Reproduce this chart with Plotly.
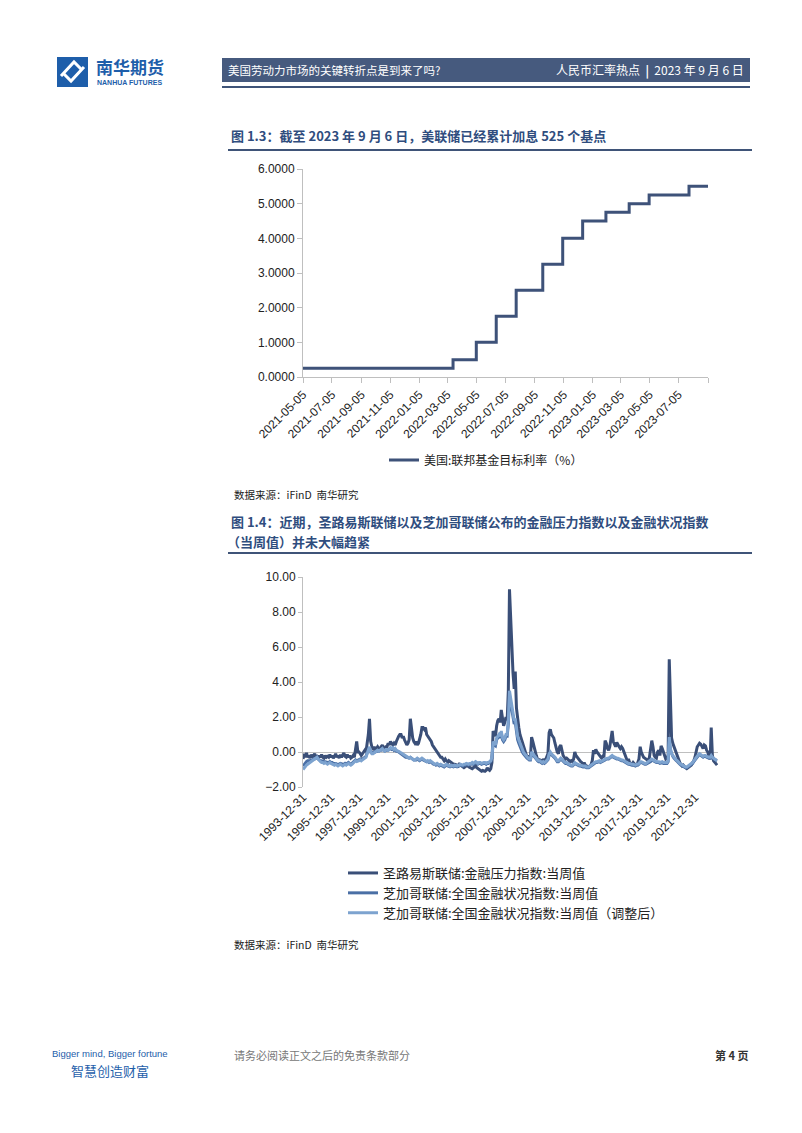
import pandas as pd
import plotly.graph_objects as go

# 页面 802x1133，body 默认留白 8px，图本身缩小后按页面像素换算
PAGE_OFF = 8
W, H = 802 - 2 * PAGE_OFF, 1133 - 2 * PAGE_OFF
NUM_FONT = "Liberation Sans, Noto Sans CJK SC, sans-serif"
CJK_FONT = "Noto Sans CJK SC, Liberation Sans, sans-serif"

# --- 图 1.3 联邦基金目标利率（上限），阶梯数据
fed_dates = ['2021-05-05', '2022-03-17', '2022-05-05', '2022-06-16', '2022-07-28',
             '2022-09-22', '2022-11-03', '2022-12-15', '2023-02-02', '2023-03-23',
             '2023-05-04', '2023-07-27', '2023-09-06']
fed_rate = [0.25, 0.5, 1.0, 1.75, 2.5, 3.25, 4.0, 4.5, 4.75, 5.0, 5.25, 5.5, 5.5]
fed_ticks = ['2021-05-05', '2021-07-05', '2021-09-05', '2021-11-05', '2022-01-05',
             '2022-03-05', '2022-05-05', '2022-07-05', '2022-09-05', '2022-11-05',
             '2023-01-05', '2023-03-05', '2023-05-05', '2023-07-05']
fed_name = "美国:联邦基金目标利率（%）"

# --- 图 1.4 金融压力 / 金融状况指数（月度读数，1994-01 起）
fsi_start = '1994-01-01'
stl_fsi = [
    -0.4, -0.1, -0.3, -0.05, -0.3, -0.2, -0.35, -0.15, -0.3, -0.2, -0.1, -0.3,   # 1994
    -0.25, -0.35, -0.2, -0.3, -0.15, -0.3, -0.35, -0.2, -0.3, -0.25, -0.3, -0.15,  # 1995
    -0.3, -0.2, -0.35, -0.25, -0.1, -0.3, -0.2, -0.35, -0.15, -0.3, -0.2, -0.05,  # 1996
    -0.25, -0.3, -0.15, -0.3, -0.2, -0.35, -0.3, -0.2, -0.3, 0.2, 0.6, 0.0,      # 1997
    0.0, -0.1, -0.2, -0.1, 0.0, 0.1, 0.0, 0.5, 1.0, 1.9, 0.6, 0.3,                # 1998
    0.2, 0.3, 0.1, 0.2, 0.3, 0.2, 0.1, 0.3, 0.4, 0.2, 0.1, 0.3,                   # 1999
    0.3, 0.5, 0.4, 0.6, 0.5, 0.4, 0.5, 0.4, 0.6, 0.8, 0.9, 1.0,                   # 2000
    1.0, 0.8, 0.9, 0.7, 0.5, 0.4, 0.5, 0.7, 1.9, 1.2, 0.8, 0.6,                   # 2001
    0.5, 0.6, 0.4, 0.5, 0.7, 1.0, 1.4, 1.4, 1.3, 1.4, 1.0, 0.9,                   # 2002
    0.8, 0.7, 0.6, 0.4, 0.3, 0.2, 0.1, 0.0, -0.1, -0.2, -0.3, -0.3,               # 2003
    -0.4, -0.5, -0.4, -0.5, -0.6, -0.5, -0.55, -0.6, -0.65, -0.7, -0.7, -0.75,    # 2004
    -0.75, -0.8, -0.7, -0.75, -0.8, -0.85, -0.9, -0.85, -0.8, -0.75, -0.85, -0.9, # 2005
    -0.9, -0.95, -0.9, -0.85, -0.8, -0.9, -0.95, -1.0, -1.05, -1.1, -1.05, -1.1,  # 2006
    -1.1, -1.05, -0.9, -1.0, -1.05, -0.95, -0.6, 1.2, 1.0, 0.9, 1.5, 1.8,         # 2007
    1.9, 1.7, 2.4, 1.8, 1.5, 1.7, 2.0, 1.8, 3.5, 9.3, 7.5, 5.6,                   # 2008
    4.5, 3.6, 4.6, 2.5, 1.8, 1.4, 1.0, 0.8, 0.5, 0.3, 0.1, -0.1,                  # 2009
    -0.3, -0.2, -0.4, -0.3, 0.85, 0.6, 0.3, 0.0, -0.2, -0.4, -0.5, -0.45,         # 2010
    -0.5, -0.55, -0.4, -0.5, -0.45, -0.2, -0.1, 1.1, 1.3, 1.0, 0.9, 0.8,          # 2011
    0.5, 0.2, 0.0, -0.1, 0.3, 0.4, 0.1, -0.2, -0.3, -0.4, -0.35, -0.4,            # 2012
    -0.5, -0.55, -0.5, -0.55, -0.4, 0.0, -0.2, -0.3, -0.4, -0.5, -0.55, -0.6,     # 2013
    -0.7, -0.6, -0.75, -0.8, -0.85, -0.85, -0.8, -0.7, -0.5, 0.1, -0.1, 0.15,     # 2014
    0.0, -0.1, -0.2, -0.3, -0.35, -0.25, -0.3, 0.65, 0.5, 0.2, 0.1, 0.3,          # 2015
    0.9, 1.2, 0.6, 0.4, 0.3, 0.55, 0.4, 0.3, 0.2, 0.3, 0.2, 0.0,                  # 2016
    -0.2, -0.4, -0.5, -0.4, -0.6, -0.65, -0.7, -0.6, -0.7, -0.75, -0.7, -0.6,     # 2017
    -0.4, 0.3, 0.0, -0.2, -0.3, -0.35, -0.4, -0.45, -0.5, -0.3, 0.1, 0.65,        # 2018
    0.3, -0.2, -0.3, -0.35, 0.0, 0.1, -0.2, 0.35, 0.2, 0.0, -0.3, -0.4,           # 2019
    -0.35, -0.2, 5.3, 2.0, 0.8, 0.5, 0.3, 0.1, 0.0, -0.2, -0.4, -0.6,             # 2020
    -0.7, -0.8, -0.75, -0.85, -0.9, -0.95, -0.9, -0.85, -0.8, -0.75, -0.6, -0.5,  # 2021
    -0.3, 0.0, 0.3, 0.4, 0.5, 0.45, 0.3, 0.2, 0.4, 0.35, 0.1, 0.0,                # 2022
    -0.3, -0.4, 1.4, -0.2, -0.5, -0.6, -0.7, -0.75,                               # 2023
]
nfci = [
    -0.8, -0.7, -0.6, -0.55, -0.5, -0.5, -0.5, -0.45, -0.45, -0.4, -0.4, -0.35,
    -0.35, -0.4, -0.45, -0.5, -0.5, -0.55, -0.55, -0.55, -0.6, -0.6, -0.6, -0.55,
    -0.6, -0.6, -0.65, -0.65, -0.65, -0.7, -0.7, -0.7, -0.65, -0.7, -0.7, -0.7,
    -0.65, -0.7, -0.65, -0.6, -0.65, -0.7, -0.65, -0.6, -0.55, -0.45, -0.5, -0.45,
    -0.45, -0.4, -0.45, -0.4, -0.35, -0.3, -0.25, -0.05, 0.1, 0.25, 0.0, -0.05,
    -0.05, 0.0, 0.0, 0.05, 0.05, 0.05, 0.1, 0.1, 0.15, 0.1, 0.05, 0.1,
    0.1, 0.1, 0.15, 0.2, 0.15, 0.2, 0.1, 0.15, 0.05, 0.05, 0.0, -0.05,
    -0.1, -0.15, -0.2, -0.25, -0.3, -0.3, -0.35, -0.35, -0.3, -0.35, -0.4, -0.45,
    -0.45, -0.45, -0.4, -0.45, -0.5, -0.45, -0.4, -0.45, -0.5, -0.55, -0.55, -0.55,
    -0.6, -0.55, -0.6, -0.65, -0.7, -0.7, -0.75, -0.7, -0.75, -0.8, -0.75, -0.8,
    -0.8, -0.85, -0.8, -0.75, -0.8, -0.85, -0.85, -0.8, -0.85, -0.85, -0.8, -0.85,
    -0.85, -0.8, -0.8, -0.75, -0.8, -0.8, -0.75, -0.75, -0.7, -0.75, -0.75, -0.7,
    -0.7, -0.65, -0.7, -0.65, -0.6, -0.65, -0.7, -0.65, -0.65, -0.7, -0.65, -0.65,
    -0.65, -0.7, -0.65, -0.65, -0.6, -0.55, -0.35, 0.5, 0.4, 0.35, 0.7, 0.8,
    0.9, 0.8, 1.1, 0.7, 0.6, 0.7, 0.9, 0.9, 1.6, 3.2, 2.8, 2.4,
    2.0, 1.6, 1.7, 1.0, 0.7, 0.5, 0.3, 0.15, 0.0, -0.1, -0.2, -0.3,
    -0.35, -0.4, -0.45, -0.45, -0.1, -0.15, -0.25, -0.35, -0.4, -0.5, -0.55, -0.55,
    -0.6, -0.65, -0.6, -0.65, -0.6, -0.5, -0.45, -0.2, -0.1, -0.15, -0.2, -0.25,
    -0.35, -0.45, -0.55, -0.55, -0.45, -0.4, -0.45, -0.55, -0.6, -0.65, -0.65, -0.7,
    -0.75, -0.75, -0.8, -0.8, -0.75, -0.65, -0.7, -0.75, -0.75, -0.8, -0.8, -0.85,
    -0.85, -0.85, -0.85, -0.9, -0.9, -0.9, -0.85, -0.8, -0.75, -0.65, -0.65, -0.6,
    -0.6, -0.55, -0.55, -0.6, -0.55, -0.5, -0.5, -0.45, -0.4, -0.4, -0.4, -0.35,
    -0.3, -0.25, -0.3, -0.35, -0.35, -0.4, -0.4, -0.45, -0.45, -0.5, -0.5, -0.55,
    -0.6, -0.65, -0.65, -0.7, -0.7, -0.75, -0.75, -0.75, -0.8, -0.8, -0.75, -0.75,
    -0.7, -0.6, -0.6, -0.65, -0.65, -0.7, -0.7, -0.65, -0.65, -0.6, -0.55, -0.45,
    -0.5, -0.55, -0.55, -0.6, -0.6, -0.6, -0.65, -0.6, -0.6, -0.65, -0.65, -0.65,
    -0.65, -0.55, 0.6, 0.1, -0.15, -0.25, -0.35, -0.45, -0.5, -0.55, -0.65, -0.7,
    -0.75, -0.8, -0.8, -0.85, -0.9, -0.9, -0.85, -0.85, -0.8, -0.75, -0.65, -0.55,
    -0.45, -0.35, -0.25, -0.2, -0.15, -0.2, -0.25, -0.3, -0.25, -0.25, -0.3, -0.35,
    -0.35, -0.35, -0.25, -0.35, -0.4, -0.45, -0.5, -0.5,
]
anfci = [
    -1.0, -0.9, -0.85, -0.75, -0.7, -0.65, -0.6, -0.55, -0.5, -0.45, -0.4, -0.35,
    -0.3, -0.4, -0.5, -0.55, -0.6, -0.6, -0.65, -0.6, -0.65, -0.7, -0.65, -0.6,
    -0.65, -0.7, -0.7, -0.75, -0.7, -0.75, -0.8, -0.75, -0.7, -0.75, -0.8, -0.75,
    -0.7, -0.75, -0.7, -0.65, -0.7, -0.75, -0.7, -0.65, -0.6, -0.5, -0.55, -0.5,
    -0.5, -0.45, -0.5, -0.45, -0.4, -0.35, -0.3, -0.1, 0.1, 0.3, 0.0, -0.1,
    -0.1, -0.05, 0.0, 0.05, 0.1, 0.05, 0.1, 0.15, 0.2, 0.1, 0.05, 0.15,
    0.15, 0.1, 0.2, 0.25, 0.2, 0.25, 0.15, 0.2, 0.1, 0.05, 0.0, 0.0,
    -0.05, -0.1, -0.15, -0.2, -0.25, -0.3, -0.3, -0.35, -0.3, -0.35, -0.4, -0.45,
    -0.45, -0.4, -0.35, -0.4, -0.45, -0.4, -0.35, -0.4, -0.45, -0.5, -0.55, -0.5,
    -0.55, -0.5, -0.55, -0.6, -0.65, -0.7, -0.7, -0.65, -0.7, -0.75, -0.7, -0.75,
    -0.75, -0.8, -0.75, -0.7, -0.75, -0.8, -0.8, -0.75, -0.8, -0.8, -0.75, -0.8,
    -0.8, -0.75, -0.75, -0.7, -0.75, -0.75, -0.7, -0.7, -0.65, -0.7, -0.7, -0.65,
    -0.65, -0.6, -0.65, -0.6, -0.55, -0.6, -0.65, -0.6, -0.6, -0.65, -0.6, -0.6,
    -0.6, -0.65, -0.6, -0.6, -0.55, -0.5, -0.3, 0.6, 0.5, 0.4, 0.8, 0.9,
    1.0, 0.9, 1.2, 0.8, 0.7, 0.8, 1.0, 1.0, 1.8, 3.5, 3.0, 2.6,
    2.2, 1.8, 1.9, 1.2, 0.9, 0.7, 0.5, 0.3, 0.1, 0.0, -0.1, -0.2,
    -0.3, -0.35, -0.4, -0.4, 0.0, -0.1, -0.2, -0.3, -0.35, -0.45, -0.5, -0.5,
    -0.55, -0.6, -0.55, -0.6, -0.55, -0.45, -0.4, -0.1, 0.0, -0.1, -0.15, -0.2,
    -0.3, -0.4, -0.5, -0.5, -0.4, -0.35, -0.4, -0.5, -0.55, -0.6, -0.6, -0.65,
    -0.7, -0.7, -0.75, -0.75, -0.7, -0.6, -0.65, -0.7, -0.7, -0.75, -0.75, -0.8,
    -0.8, -0.8, -0.8, -0.85, -0.85, -0.85, -0.8, -0.75, -0.7, -0.6, -0.6, -0.55,
    -0.55, -0.5, -0.5, -0.55, -0.5, -0.45, -0.45, -0.4, -0.35, -0.35, -0.35, -0.3,
    -0.25, -0.2, -0.25, -0.3, -0.3, -0.35, -0.35, -0.4, -0.4, -0.45, -0.45, -0.5,
    -0.55, -0.6, -0.6, -0.65, -0.65, -0.7, -0.7, -0.7, -0.75, -0.75, -0.7, -0.7,
    -0.65, -0.55, -0.55, -0.6, -0.6, -0.65, -0.65, -0.6, -0.6, -0.55, -0.5, -0.4,
    -0.45, -0.5, -0.5, -0.55, -0.55, -0.55, -0.6, -0.55, -0.55, -0.6, -0.6, -0.6,
    -0.6, -0.5, 0.85, 0.2, -0.1, -0.2, -0.3, -0.4, -0.45, -0.5, -0.6, -0.65,
    -0.7, -0.75, -0.75, -0.8, -0.85, -0.85, -0.8, -0.8, -0.75, -0.7, -0.6, -0.5,
    -0.4, -0.3, -0.2, -0.15, -0.1, -0.15, -0.2, -0.25, -0.2, -0.2, -0.25, -0.3,
    -0.3, -0.3, -0.2, -0.3, -0.35, -0.4, -0.45, -0.45,
]
fsi_names = ["圣路易斯联储:金融压力指数:当周值",
             "芝加哥联储:全国金融状况指数:当周值",
             "芝加哥联储:全国金融状况指数:当周值（调整后）"]
fsi_colors = ['#3A4F78', '#4A6FA5', '#7DA3CF']
fsi_ticks = ['1993-12-31', '1995-12-31', '1997-12-31', '1999-12-31', '2001-12-31',
             '2003-12-31', '2005-12-31', '2007-12-31', '2009-12-31', '2011-12-31',
             '2013-12-31', '2015-12-31', '2017-12-31', '2019-12-31', '2021-12-31']


def px(x):
    # 页面像素 -> paper x
    return (x - PAGE_OFF) / W


def py(y):
    # 页面像素（自上而下）-> paper y
    return 1 - (y - PAGE_OFF) / H


fig = go.Figure()

fig.add_trace(go.Scatter(x=fed_dates, y=fed_rate, mode='lines', line_shape='hv',
                         line=dict(color='#3E5279', width=3), name=fed_name,
                         showlegend=True, xaxis='x', yaxis='y', legend='legend'))

fsi_dates = pd.date_range(fsi_start, periods=len(stl_fsi), freq='MS')
for vals, name, col in zip([stl_fsi, nfci, anfci], fsi_names, fsi_colors):
    fig.add_trace(go.Scatter(x=fsi_dates, y=vals, mode='lines', name=name,
                             line=dict(color=col, width=3), showlegend=True,
                             xaxis='x2', yaxis='y2', legend='legend2'))

GRAY = '#BFBFBF'
tick_font = dict(family=NUM_FONT, size=12, color='#222222')

fig.update_layout(
    width=W, height=H, autosize=False, showlegend=True,
    margin=dict(l=0, r=0, t=0, b=0, pad=0, autoexpand=False),
    paper_bgcolor='white', plot_bgcolor='white',
    font=dict(family=CJK_FONT, color='#222222'),
    xaxis=dict(domain=[px(303), px(708)], anchor='y', type='date', automargin=False,
               range=['2021-05-05', '2023-09-05'],
               tickvals=fed_ticks + ['2023-09-05'], ticktext=fed_ticks + [''],
               tickangle=-45, ticks='outside', ticklen=5, tickcolor=GRAY,
               showline=True, linecolor=GRAY, showgrid=False, zeroline=False,
               tickfont=tick_font),
    yaxis=dict(domain=[py(377), py(169)], anchor='x', range=[0, 6], dtick=1,
               automargin=False, tickformat='.4f', ticks='outside', ticklen=5,
               tickcolor=GRAY, showline=True, linecolor=GRAY, showgrid=False,
               zeroline=False, tickfont=tick_font),
    xaxis2=dict(domain=[px(303), px(718)], anchor='y2', type='date', automargin=False,
                range=['1993-12-31', '2023-08-25'],
                tickvals=fsi_ticks, ticktext=fsi_ticks, tickangle=-45,
                showline=False, showgrid=False, zeroline=False, ticks='',
                tickfont=tick_font),
    yaxis2=dict(domain=[py(787), py(577)], anchor='x2', range=[-2, 10], dtick=2,
                automargin=False, tickformat='.2f', ticks='outside', ticklen=4,
                tickcolor=GRAY, showline=True, linecolor=GRAY, showgrid=False,
                zeroline=True, zerolinecolor=GRAY, zerolinewidth=1,
                tickfont=tick_font),
    legend=dict(orientation='h', x=px(486), xanchor='center', y=py(460),
                yanchor='middle', bgcolor='rgba(0,0,0,0)',
                font=dict(family=CJK_FONT, size=12, color='#222222')),
    legend2=dict(x=px(343), xanchor='left', y=py(858), yanchor='top',
                 bgcolor='rgba(0,0,0,0)', tracegroupgap=0,
                 font=dict(family=CJK_FONT, size=13, color='#222222')),
)

# 页眉、标题、页脚
NAVY = '#3F5478'
BLUE = '#1E5EAA'
shapes = [
    dict(type='rect', x0=px(222), x1=px(750), y0=py(82), y1=py(58),
         fillcolor='#465A7E', line=dict(width=0)),
    dict(type='line', x0=px(222), x1=px(750), y0=py(87), y1=py(87),
         line=dict(color=NAVY, width=2)),
    dict(type='rect', x0=px(57), x1=px(88), y0=py(87), y1=py(57),
         fillcolor=BLUE, line=dict(width=0)),
    dict(type='path', path='M %f %f L %f %f L %f %f' % (px(61), py(76), px(74), py(62), px(82), py(70)),
         line=dict(color='white', width=3)),
    dict(type='path', path='M %f %f L %f %f L %f %f' % (px(63), py(73), px(71), py(81), px(84), py(67)),
         line=dict(color='white', width=3)),
    dict(type='line', x0=px(228), x1=px(752), y0=py(150), y1=py(150),
         line=dict(color=NAVY, width=2)),
    dict(type='line', x0=px(228), x1=px(752), y0=py(553), y1=py(553),
         line=dict(color=NAVY, width=2)),
]
for s in shapes:
    s.update(xref='paper', yref='paper', layer='above')
    fig.add_shape(**s)


def note(text, x, y, size, color='#222222', anchor='left', family=CJK_FONT):
    fig.add_annotation(text=text, x=px(x), y=py(y), xref='paper', yref='paper',
                       xanchor=anchor, yanchor='middle', showarrow=False,
                       font=dict(family=family, size=size, color=color))


note('<b>南华期货</b>', 94, 67, 17, BLUE)
note('<b>NANHUA FUTURES</b>', 95, 82, 7, BLUE, family=NUM_FONT)
note('美国劳动力市场的关键转折点是到来了吗?', 226, 70, 11.5, 'white')
note('人民币汇率热点  <b>|</b>  2023 年 9 月 6 日', 746, 70, 12, 'white', 'right')
note('<b>图 1.3：截至 2023 年 9 月 6 日，美联储已经累计加息 525 个基点</b>', 229, 135, 13, '#2F4D7E')
note('数据来源：iFinD  南华研究', 232, 494, 10.5)
note('<b>图 1.4：近期，圣路易斯联储以及芝加哥联储公布的金融压力指数以及金融状况指数</b>', 229, 521, 13, '#2F4D7E')
note('<b>（当周值）并未大幅趋紧</b>', 225, 541, 13, '#2F4D7E')
note('数据来源：iFinD  南华研究', 232, 944, 10.5)
note('Bigger mind, Bigger fortune', 110, 1053, 9.5, BLUE, 'center', 'Liberation Sans Narrow, Liberation Sans')
note('智慧创造财富', 110, 1070, 13, BLUE, 'center')
note('请务必阅读正文之后的免责条款部分', 232, 1055, 11, '#777777')
note('<b>第 4 页</b>', 750, 1055, 11, '#333333', 'right')

fig.write_html("out.html")
